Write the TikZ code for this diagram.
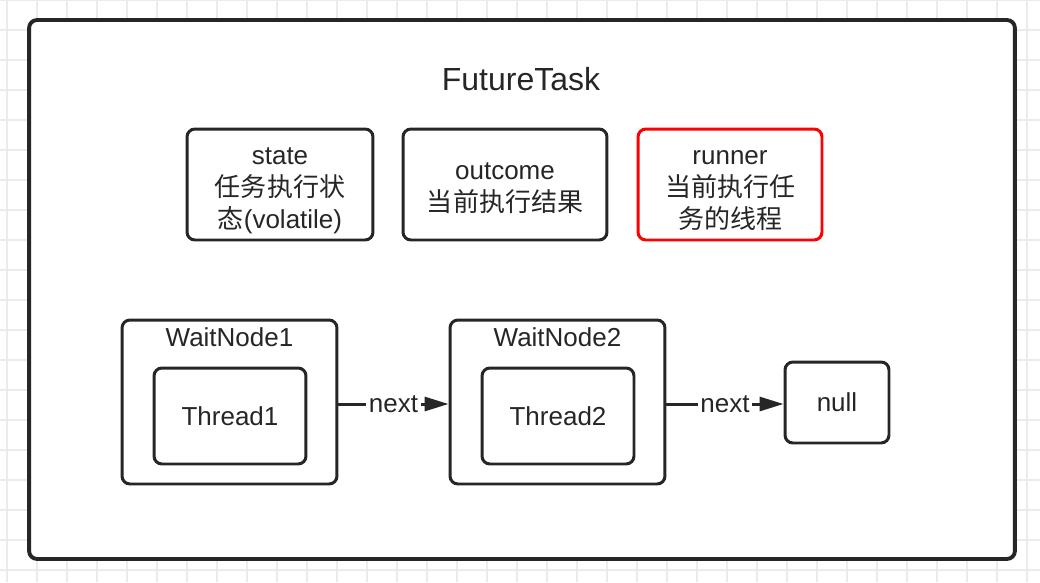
\documentclass[tikz,border=0pt]{standalone}
\usepackage{fontspec}
\setmainfont{Liberation Sans}
\newfontfamily\cjk{Noto Sans CJK SC}
\usetikzlibrary{arrows.meta,positioning}
\definecolor{linec}{HTML}{262626}
\definecolor{textc}{HTML}{262626}
\definecolor{gridc}{HTML}{EBEBEB}
\definecolor{redc}{HTML}{FF0000}
\newcommand\boxfont{\fontsize{14.8}{18.2}\selectfont}
\newcommand\titlefont{\fontsize{18.2}{21}\selectfont}
\tikzset
{
    gridline/.style = {draw=gridc, line width=0.6pt},
    frame/.style    = {rectangle, draw=linec, line width=2.2pt, rounded corners=4.5pt, fill=white, minimum width=19.72cm, minimum height=10.78cm, inner sep=0pt},
    field/.style    = {rectangle, draw=linec, line width=1.7pt, rounded corners=4.5pt, fill=white, minimum height=2.22cm, inner sep=0pt},
    waitnode/.style = {rectangle, draw=linec, line width=1.7pt, rounded corners=4.5pt, fill=white, minimum width=4.3cm, minimum height=3.28cm, inner sep=0pt},
    thread/.style   = {rectangle, draw=linec, line width=1.7pt, rounded corners=4.5pt, fill=white, text=textc, font=\boxfont, minimum width=3.04cm, minimum height=1.92cm, inner sep=0pt},
    caption/.style  = {text=textc, font=\boxfont, align=center, inner sep=0pt},
    arrow/.style    = {draw=linec, line width=1.7pt, -{Triangle[length=0.48cm, width=0.28cm]}},
    edgelabel/.style= {fill=white, text=textc, font=\boxfont, inner sep=1.5pt}
}

\begin{document}
\begin{tikzpicture}[x=0.02cm, y=-0.02cm]
   \useasboundingbox (0, 0) rectangle (1040, 582);
   \fill[white] (0, 0) rectangle (1040, 582);
   \foreach \gx in {7, 37, ..., 1027}
      \draw[gridline] (\gx, 0) -- (\gx, 582);
   \foreach \gy in {0, 30, ..., 570}
      \draw[gridline] (0, \gy) -- (1040, \gy);

   \node (ft)   [frame]                         at (522, 289.5)   {};
   \node (name) [text=textc, font=\titlefont]   at (521, 79)      {FutureTask};

   \node (st)   [field, minimum width=3.72cm]   at (280, 184.5)   {};
   \node (stt)  [caption]                       at (280, 191)     {state\\{\cjk 任务执行状}\\{\cjk 态}(volatile)};
   \node (oc)   [field, minimum width=4.08cm]   at (505, 184.5)   {};
   \node (oct)  [caption]                       at (505, 188.5)   {outcome\\{\cjk 当前执行结果}};
   \node (rn)   [field, minimum width=3.68cm, draw=redc] at (730, 184.5) {};
   \node (rnt)  [caption]                       at (730, 190.5)   {runner\\{\cjk 当前执行任}\\{\cjk 务的线程}};

   \node (w1)   [waitnode]                      at (229.5, 402)   {};
   \node (w1l)  [caption]                       at (229.5, 337)   {WaitNode1};
   \node (t1)   [thread]                        at (230, 416)     {Thread1};
   \node (w2)   [waitnode]                      at (557.5, 402)   {};
   \node (w2l)  [caption]                       at (557.5, 337)   {WaitNode2};
   \node (t2)   [thread]                        at (558, 416)     {Thread2};
   \node (nl)   [thread, minimum width=2.08cm, minimum height=1.62cm] at (837, 402.5) {null};

   \path
      (w1.east |- 0, 404)  edge[arrow]  node[edgelabel] {next} (w2.west |- 0, 404)
      (w2.east |- 0, 404)  edge[arrow]  node[edgelabel] {next} (nl.west |- 0, 404);
\end{tikzpicture}
\end{document}
